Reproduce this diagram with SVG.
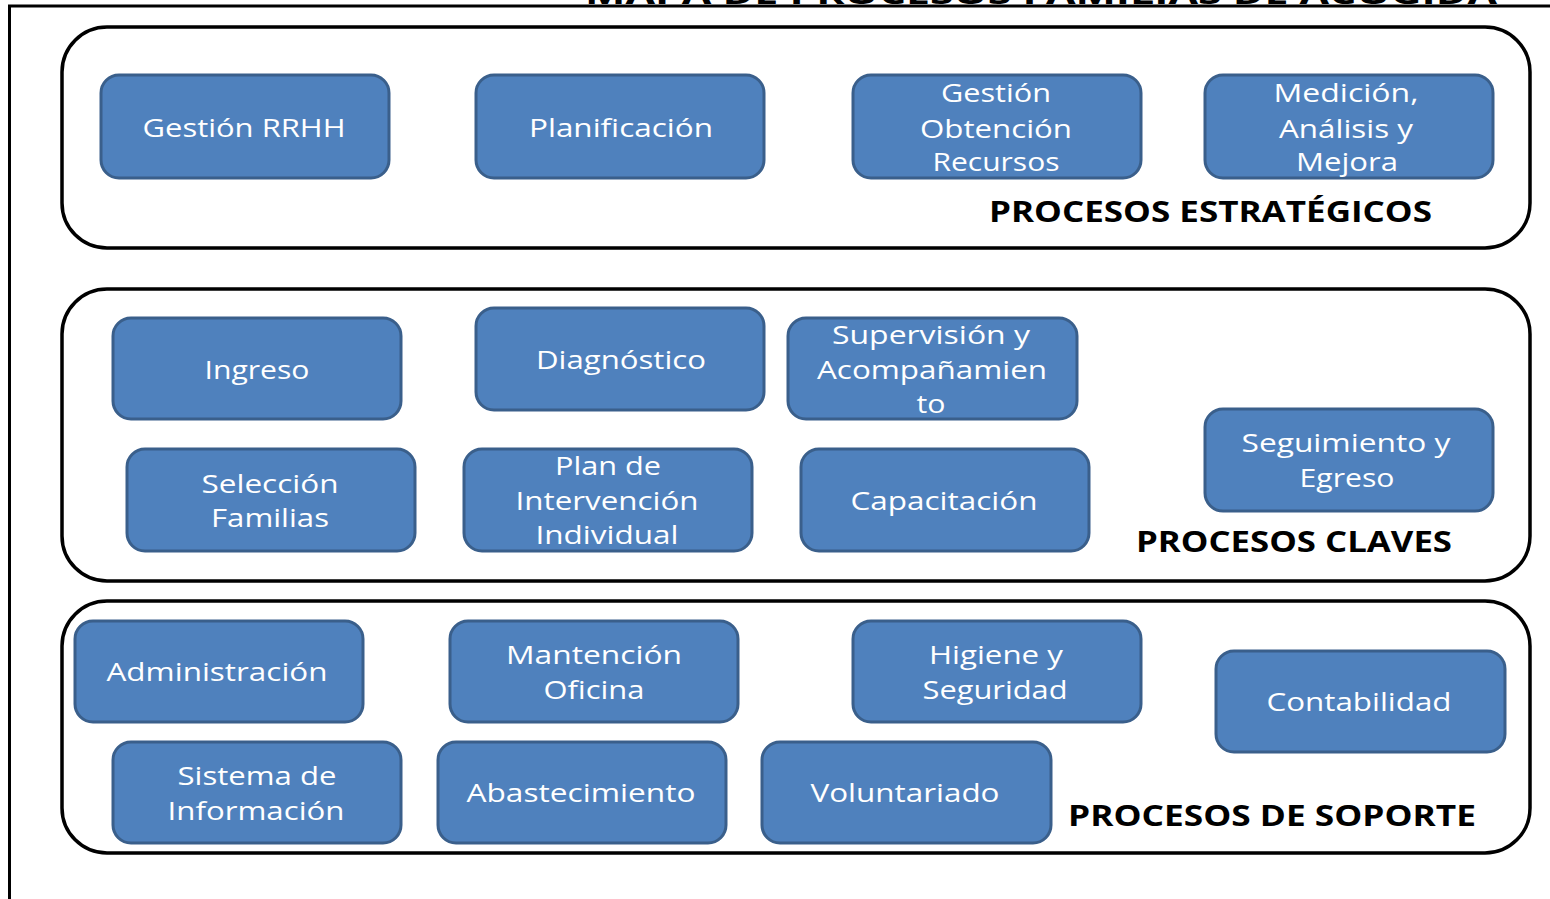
<svg xmlns="http://www.w3.org/2000/svg" width="1550" height="899" viewBox="0 0 1550 899">
<style>
.bg{fill:#ffffff}
.frame{fill:none;stroke:#000;stroke-width:3}
.panel{fill:#ffffff;stroke:#000;stroke-width:3.5}
.box{fill:#4F81BD;stroke:#3A5F8B;stroke-width:3}
.t{font-family:"Open Sans","Liberation Sans",sans-serif;font-size:26px;fill:#ffffff;text-anchor:middle}
.h{font-family:"Open Sans","Liberation Sans",sans-serif;font-size:29px;font-weight:bold;fill:#000000;text-anchor:start}
</style>
<rect class="bg" x="0" y="0" width="1550" height="899"/>
<g id="frame">
<text class="h" x="585" y="4" font-size="36" textLength="912" lengthAdjust="spacingAndGlyphs">MAPA DE PROCESOS FAMILIAS DE ACOGIDA</text>
<path class="frame" d="M9.5,899 V6 H1550"/>
</g>
<g id="panel-estrategicos">
<rect class="panel" x="62" y="27" width="1468" height="221" rx="45" ry="45"/>
<text class="h" x="989" y="222" textLength="443" lengthAdjust="spacingAndGlyphs">PROCESOS ESTRATÉGICOS</text>
</g>
<g id="panel-claves">
<rect class="panel" x="62" y="289" width="1468" height="292" rx="45" ry="45"/>
<text class="h" x="1136" y="552" textLength="316" lengthAdjust="spacingAndGlyphs">PROCESOS CLAVES</text>
</g>
<g id="panel-soporte">
<rect class="panel" x="62" y="601" width="1468" height="252" rx="45" ry="45"/>
<text class="h" x="1068" y="826" textLength="408" lengthAdjust="spacingAndGlyphs">PROCESOS DE SOPORTE</text>
</g>
<g id="connectors"></g>
<g id="gestion-rrhh">
<rect class="box" x="101" y="75" width="288" height="103" rx="18"/>
<text class="t" x="244" y="137" textLength="203" lengthAdjust="spacingAndGlyphs">Gestión RRHH</text>
</g>
<g id="planificacion">
<rect class="box" x="476" y="75" width="288" height="103" rx="18"/>
<text class="t" x="621" y="137" textLength="184" lengthAdjust="spacingAndGlyphs">Planificación</text>
</g>
<g id="gestion-obtencion">
<rect class="box" x="853" y="75" width="288" height="103" rx="18"/>
<text class="t" x="996" y="102" textLength="110" lengthAdjust="spacingAndGlyphs">Gestión</text>
<text class="t" x="996" y="138" textLength="152" lengthAdjust="spacingAndGlyphs">Obtención</text>
<text class="t" x="996" y="171" textLength="127" lengthAdjust="spacingAndGlyphs">Recursos</text>
</g>
<g id="medicion">
<rect class="box" x="1205" y="75" width="288" height="103" rx="18"/>
<text class="t" x="1346" y="102" textLength="145" lengthAdjust="spacingAndGlyphs">Medición,</text>
<text class="t" x="1346" y="138" textLength="134" lengthAdjust="spacingAndGlyphs">Análisis y</text>
<text class="t" x="1347" y="171" textLength="102" lengthAdjust="spacingAndGlyphs">Mejora</text>
</g>
<g id="ingreso">
<rect class="box" x="113" y="318" width="288" height="101" rx="18"/>
<text class="t" x="257" y="379" textLength="105" lengthAdjust="spacingAndGlyphs">Ingreso</text>
</g>
<g id="diagnostico">
<rect class="box" x="476" y="308" width="288" height="102" rx="18"/>
<text class="t" x="621" y="369" textLength="170" lengthAdjust="spacingAndGlyphs">Diagnóstico</text>
</g>
<g id="supervision">
<rect class="box" x="788" y="318" width="289" height="101" rx="18"/>
<text class="t" x="931" y="344" textLength="198" lengthAdjust="spacingAndGlyphs">Supervisión y</text>
<text class="t" x="932" y="379" textLength="230" lengthAdjust="spacingAndGlyphs">Acompañamien</text>
<text class="t" x="931" y="413" textLength="29" lengthAdjust="spacingAndGlyphs">to</text>
</g>
<g id="seleccion">
<rect class="box" x="127" y="449" width="288" height="102" rx="18"/>
<text class="t" x="270" y="493" textLength="137" lengthAdjust="spacingAndGlyphs">Selección</text>
<text class="t" x="270" y="527" textLength="118" lengthAdjust="spacingAndGlyphs">Familias</text>
</g>
<g id="plan-intervencion">
<rect class="box" x="464" y="449" width="288" height="102" rx="18"/>
<text class="t" x="608" y="475" textLength="106" lengthAdjust="spacingAndGlyphs">Plan de</text>
<text class="t" x="607" y="510" textLength="183" lengthAdjust="spacingAndGlyphs">Intervención</text>
<text class="t" x="607" y="544" textLength="143" lengthAdjust="spacingAndGlyphs">Individual</text>
</g>
<g id="capacitacion">
<rect class="box" x="801" y="449" width="288" height="102" rx="18"/>
<text class="t" x="944" y="510" textLength="187" lengthAdjust="spacingAndGlyphs">Capacitación</text>
</g>
<g id="seguimiento">
<rect class="box" x="1205" y="409" width="288" height="102" rx="18"/>
<text class="t" x="1346" y="452" textLength="209" lengthAdjust="spacingAndGlyphs">Seguimiento y</text>
<text class="t" x="1347" y="487" textLength="95" lengthAdjust="spacingAndGlyphs">Egreso</text>
</g>
<g id="administracion">
<rect class="box" x="75" y="621" width="288" height="101" rx="18"/>
<text class="t" x="217" y="681" textLength="221" lengthAdjust="spacingAndGlyphs">Administración</text>
</g>
<g id="mantencion">
<rect class="box" x="450" y="621" width="288" height="101" rx="18"/>
<text class="t" x="594" y="664" textLength="176" lengthAdjust="spacingAndGlyphs">Mantención</text>
<text class="t" x="594" y="699" textLength="101" lengthAdjust="spacingAndGlyphs">Oficina</text>
</g>
<g id="higiene">
<rect class="box" x="853" y="621" width="288" height="101" rx="18"/>
<text class="t" x="996" y="664" textLength="134" lengthAdjust="spacingAndGlyphs">Higiene y</text>
<text class="t" x="995" y="699" textLength="145" lengthAdjust="spacingAndGlyphs">Seguridad</text>
</g>
<g id="contabilidad">
<rect class="box" x="1216" y="651" width="289" height="101" rx="18"/>
<text class="t" x="1359" y="711" textLength="185" lengthAdjust="spacingAndGlyphs">Contabilidad</text>
</g>
<g id="sistema-informacion">
<rect class="box" x="113" y="742" width="288" height="101" rx="18"/>
<text class="t" x="257" y="785" textLength="159" lengthAdjust="spacingAndGlyphs">Sistema de</text>
<text class="t" x="256" y="820" textLength="177" lengthAdjust="spacingAndGlyphs">Información</text>
</g>
<g id="abastecimiento">
<rect class="box" x="438" y="742" width="288" height="101" rx="18"/>
<text class="t" x="581" y="802" textLength="229" lengthAdjust="spacingAndGlyphs">Abastecimiento</text>
</g>
<g id="voluntariado">
<rect class="box" x="762" y="742" width="289" height="101" rx="18"/>
<text class="t" x="905" y="802" textLength="189" lengthAdjust="spacingAndGlyphs">Voluntariado</text>
</g>
</svg>
